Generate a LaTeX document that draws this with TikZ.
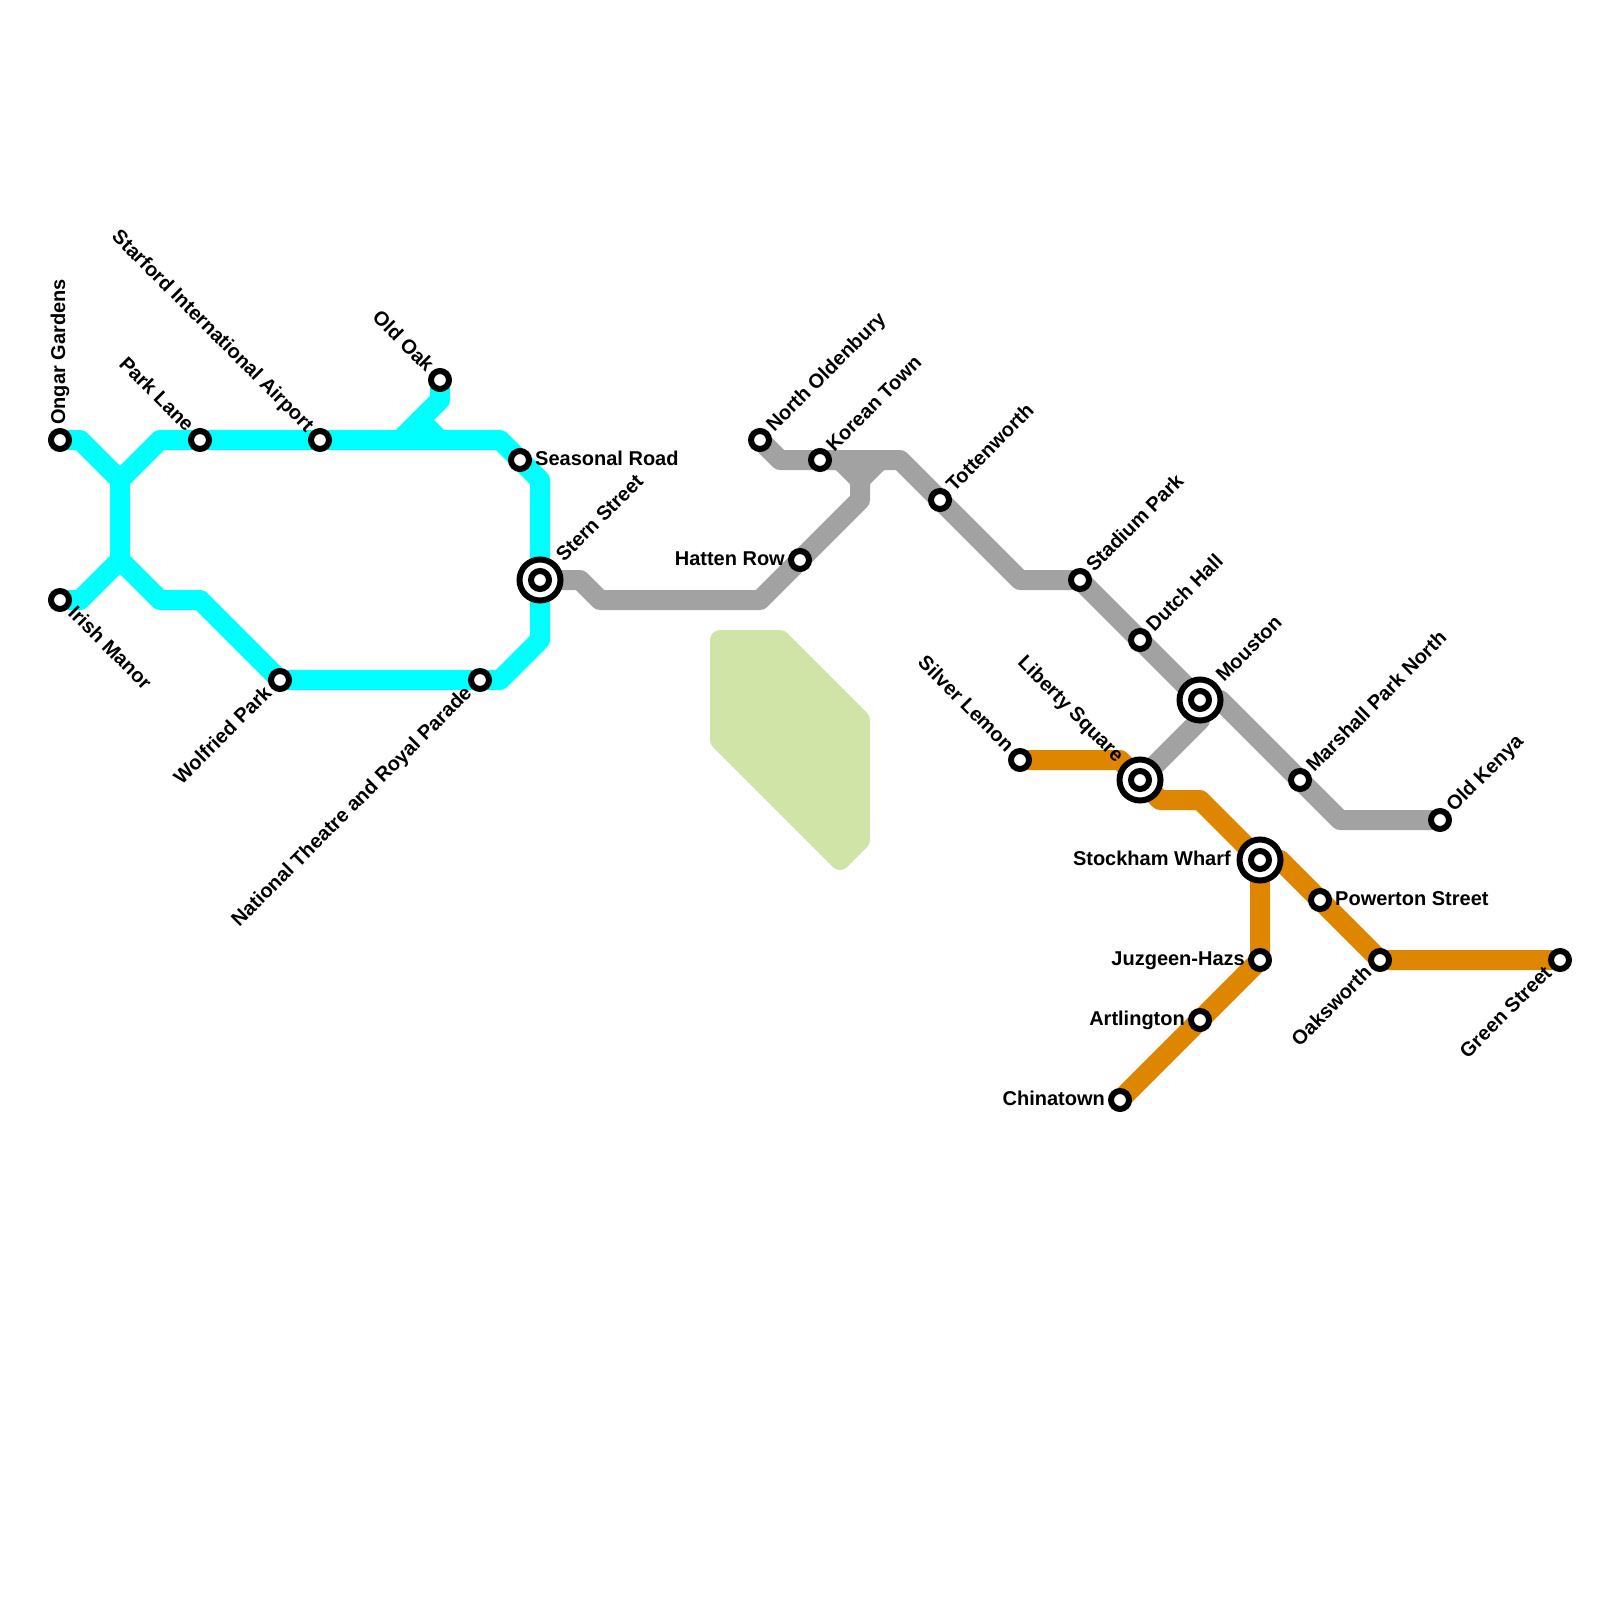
\documentclass[tikz,border=0pt]{standalone}
\usepackage{fontspec}
\setmainfont{Liberation Sans}
\usepackage{xcolor}
\definecolor{cyanline}{RGB}{0,255,255}
\definecolor{greyline}{RGB}{162,162,162}
\definecolor{amberline}{RGB}{223,134,0}
\definecolor{parkgreen}{RGB}{207,228,166}
\usepackage{tikz}
\tikzset{
    routeline/.style={line width=20pt, line cap=round, line join=round},
    stn/.style={circle, draw=black, fill=white, line width=6pt, minimum size=18pt, inner sep=0pt, outer sep=0pt},
    stnbig/.style={circle, draw=black, fill=white, line width=6pt, minimum size=41pt, inner sep=0pt, outer sep=0pt},
    lbl/.style={font=\fontsize{20}{22}\selectfont\bfseries, text=black, text height=12pt, text depth=2pt, inner ysep=0pt, inner xsep=15pt},
    lblbig/.style={lbl, inner xsep=29pt},
}

\begin{document}
\begin{tikzpicture}[x=1pt, y=-1pt]
    \useasboundingbox (0,0) rectangle (1600,1600);

    % Station positions
    \coordinate (Ongar) at (60,440);
    \coordinate (ParkLane) at (200,440);
    \coordinate (Starford) at (320,440);
    \coordinate (OldOak) at (440,380);
    \coordinate (Seasonal) at (520,460);
    \coordinate (Stern) at (540,580);
    \coordinate (Irish) at (60,600);
    \coordinate (Wolfried) at (280,680);
    \coordinate (NatTheatre) at (480,680);
    \coordinate (NOldenbury) at (760,440);
    \coordinate (Korean) at (820,460);
    \coordinate (Hatten) at (800,560);
    \coordinate (Tottenworth) at (940,500);
    \coordinate (Stadium) at (1080,580);
    \coordinate (Dutch) at (1140,640);
    \coordinate (Mouston) at (1200,700);
    \coordinate (Marshall) at (1300,780);
    \coordinate (OldKenya) at (1440,820);
    \coordinate (Silver) at (1020,760);
    \coordinate (Liberty) at (1140,780);
    \coordinate (Stockham) at (1260,860);
    \coordinate (Powerton) at (1320,900);
    \coordinate (Oaksworth) at (1380,960);
    \coordinate (Green) at (1560,960);
    \coordinate (Juzgeen) at (1260,960);
    \coordinate (Artlington) at (1200,1020);
    \coordinate (Chinatown) at (1120,1100);
    % Junctions on the cyan line
    \coordinate (CyanTop) at (120,480);
    \coordinate (CyanLow) at (120,560);

    % Park
    \filldraw[parkgreen, line width=20pt, line join=round] (720,640) -- (780,640) -- (860,720) -- (860,840) -- (840,860) -- (720,740) -- cycle;

    % Cyan line
    \draw[routeline, cyanline] (Ongar) -- (80,440) -- (CyanTop) -- (CyanLow) -- (160,600) -- (200,600) -- (Wolfried) -- (NatTheatre) -- (500,680) -- (540,640) -- (Stern) -- (540,480) -- (Seasonal) -- (500,440) -- (Starford) -- (ParkLane) -- (160,440) -- (CyanTop);
    \draw[routeline, cyanline] (Irish) -- (80,600) -- (CyanLow);
    \draw[routeline, cyanline] (OldOak) -- (440,400) -- (400,440);
    \draw[routeline, cyanline] (420,420) -- (440,440);

    % Grey line
    \draw[routeline, greyline] (Stern) -- (580,580) -- (600,600) -- (760,600) -- (Hatten) -- (860,500) -- (860,480) -- (840,460);
    \draw[routeline, greyline] (860,480) -- (880,460);
    \draw[routeline, greyline] (NOldenbury) -- (780,460) -- (Korean) -- (900,460) -- (Tottenworth) -- (1020,580) -- (Stadium) -- (Dutch) -- (Mouston) -- (1220,700) -- (Marshall) -- (1340,820) -- (OldKenya);
    \draw[routeline, greyline] (Mouston) -- (1200,720) -- (Liberty);

    % Orange line
    \draw[routeline, amberline] (Silver) -- (1120,760) -- (Liberty) -- (1160,800) -- (1200,800) -- (Stockham);
    \draw[routeline, amberline] (Stockham) -- (1280,860) -- (Powerton) -- (Oaksworth) -- (Green);
    \draw[routeline, amberline] (Stockham) -- (Juzgeen) -- (Artlington) -- (Chinatown);

    % Interchanges
    \node[stnbig] (RingStern) at (Stern) {};
    \node[stnbig] (RingMouston) at (Mouston) {};
    \node[stnbig] (RingLiberty) at (Liberty) {};
    \node[stnbig] (RingStockham) at (Stockham) {};

    % Stations
    \node[stn] (StnOngar) at (Ongar) {};
    \node[stn] (StnParkLane) at (ParkLane) {};
    \node[stn] (StnStarford) at (Starford) {};
    \node[stn] (StnOldOak) at (OldOak) {};
    \node[stn] (StnSeasonal) at (Seasonal) {};
    \node[stn] (StnStern) at (Stern) {};
    \node[stn] (StnIrish) at (Irish) {};
    \node[stn] (StnWolfried) at (Wolfried) {};
    \node[stn] (StnNatTheatre) at (NatTheatre) {};
    \node[stn] (StnNOldenbury) at (NOldenbury) {};
    \node[stn] (StnKorean) at (Korean) {};
    \node[stn] (StnHatten) at (Hatten) {};
    \node[stn] (StnTottenworth) at (Tottenworth) {};
    \node[stn] (StnStadium) at (Stadium) {};
    \node[stn] (StnDutch) at (Dutch) {};
    \node[stn] (StnMouston) at (Mouston) {};
    \node[stn] (StnMarshall) at (Marshall) {};
    \node[stn] (StnOldKenya) at (OldKenya) {};
    \node[stn] (StnSilver) at (Silver) {};
    \node[stn] (StnLiberty) at (Liberty) {};
    \node[stn] (StnStockham) at (Stockham) {};
    \node[stn] (StnPowerton) at (Powerton) {};
    \node[stn] (StnOaksworth) at (Oaksworth) {};
    \node[stn] (StnGreen) at (Green) {};
    \node[stn] (StnJuzgeen) at (Juzgeen) {};
    \node[stn] (StnArtlington) at (Artlington) {};
    \node[stn] (StnChinatown) at (Chinatown) {};

    % Labels
    \node[lbl, anchor=west, rotate=90] (LblOngar) at (Ongar) {Ongar Gardens};
    \node[lbl, anchor=east, rotate=-45] (LblParkLane) at (ParkLane) {Park Lane};
    \node[lbl, anchor=east, rotate=-45] (LblStarford) at (Starford) {Starford International Airport};
    \node[lbl, anchor=east, rotate=-45] (LblOldOak) at (OldOak) {Old Oak};
    \node[lbl, anchor=west] (LblSeasonal) at (Seasonal) {Seasonal Road};
    \node[lblbig, anchor=west, rotate=45] (LblStern) at (Stern) {Stern Street};
    \node[lbl, anchor=west, rotate=-45] (LblIrish) at (Irish) {Irish Manor};
    \node[lbl, anchor=east, rotate=45] (LblWolfried) at (Wolfried) {Wolfried Park};
    \node[lbl, anchor=east, rotate=45] (LblNatTheatre) at (NatTheatre) {National Theatre and Royal Parade};
    \node[lbl, anchor=west, rotate=45] (LblNOldenbury) at (NOldenbury) {North Oldenbury};
    \node[lbl, anchor=west, rotate=45] (LblKorean) at (Korean) {Korean Town};
    \node[lbl, anchor=east] (LblHatten) at (Hatten) {Hatten Row};
    \node[lbl, anchor=west, rotate=45] (LblTottenworth) at (Tottenworth) {Tottenworth};
    \node[lbl, anchor=west, rotate=45] (LblStadium) at (Stadium) {Stadium Park};
    \node[lbl, anchor=west, rotate=45] (LblDutch) at (Dutch) {Dutch Hall};
    \node[lblbig, anchor=west, rotate=45] (LblMouston) at (Mouston) {Mouston};
    \node[lbl, anchor=west, rotate=45] (LblMarshall) at (Marshall) {Marshall Park North};
    \node[lbl, anchor=west, rotate=45] (LblOldKenya) at (OldKenya) {Old Kenya};
    \node[lbl, anchor=east, rotate=-45] (LblSilver) at (Silver) {Silver Lemon};
    \node[lblbig, anchor=east, rotate=-45] (LblLiberty) at (Liberty) {Liberty Square};
    \node[lblbig, anchor=east] (LblStockham) at (Stockham) {Stockham Wharf};
    \node[lbl, anchor=west] (LblPowerton) at (Powerton) {Powerton Street};
    \node[lbl, anchor=east, rotate=45] (LblOaksworth) at (Oaksworth) {Oaksworth};
    \node[lbl, anchor=east, rotate=45] (LblGreen) at (Green) {Green Street};
    \node[lbl, anchor=east] (LblJuzgeen) at (Juzgeen) {Juzgeen-Hazs};
    \node[lbl, anchor=east] (LblArtlington) at (Artlington) {Artlington};
    \node[lbl, anchor=east] (LblChinatown) at (Chinatown) {Chinatown};
\end{tikzpicture}
\end{document}
